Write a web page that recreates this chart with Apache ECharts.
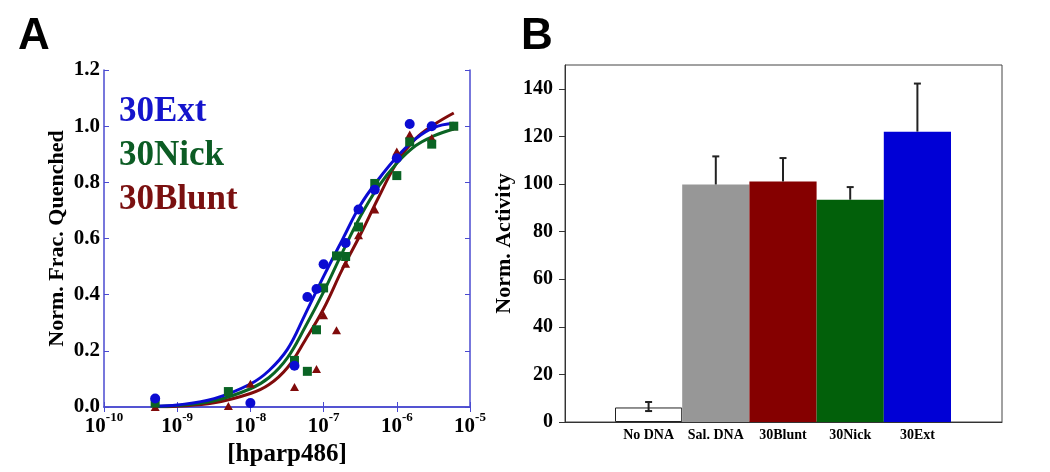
<!DOCTYPE html>
<html>
<head>
<meta charset="utf-8">
<script src="https://cdn.jsdelivr.net/npm/echarts@6/dist/echarts.min.js"></script>
<style>
html,body{margin:0;padding:0;background:#fff;}
#chart{width:1050px;height:472px;}
</style>
</head>
<body>
<div id="chart"></div>
<script>
// ---------- Panel A: binding curves ----------
const seriesNames = ['30Ext', '30Nick', '30Blunt'];

const blueX = [5e-10, 1e-8, 4e-8, 6e-8, 8e-8, 1e-7, 2e-7, 3e-7, 5e-7, 1e-6, 1.5e-6, 3e-6];
const blueY = [0.03, 0.014, 0.147, 0.392, 0.42, 0.508, 0.584, 0.703, 0.774, 0.886, 1.008, 1.0];

const greenX = [5e-10, 5e-9, 4e-8, 6e-8, 8e-8, 1e-7, 1.5e-7, 2e-7, 3e-7, 5e-7, 1e-6, 1.5e-6, 3e-6, 6e-6];
const greenY = [0.014, 0.055, 0.166, 0.127, 0.275, 0.424, 0.538, 0.536, 0.641, 0.796, 0.824, 0.944, 0.936, 1.0];

const redX = [5e-10, 5e-9, 1e-8, 4e-8, 8e-8, 1e-7, 1.5e-7, 2e-7, 3e-7, 5e-7, 1e-6, 1.5e-6, 3e-6, 6e-6];
const redY = [0.0, 0.004, 0.083, 0.071, 0.135, 0.327, 0.273, 0.51, 0.612, 0.703, 0.91, 0.97, 0.958, 1.0];

// fitted curves
const fitX = [5e-10, 1e-9, 3.2e-9, 1e-8, 1.8e-8, 3.2e-8, 5.6e-8, 1e-7, 1.8e-7, 3.2e-7, 5.6e-7, 1e-6, 1.8e-6, 3.2e-6, 6e-6];
const blueFit  = [0.003, 0.007, 0.03, 0.082, 0.13, 0.205, 0.33, 0.465, 0.595, 0.72, 0.81, 0.89, 0.955, 0.995, 1.01];
const greenFit = [0.002, 0.005, 0.022, 0.065, 0.105, 0.175, 0.285, 0.41, 0.55, 0.68, 0.785, 0.868, 0.93, 0.965, 0.99];
const redFit   = [0.001, 0.003, 0.015, 0.048, 0.08, 0.14, 0.238, 0.35, 0.49, 0.615, 0.745, 0.87, 0.955, 1.005, 1.047];

const yTicksA = [0, 0.2, 0.4, 0.6, 0.8, 1.0, 1.2];

// ---------- Panel B: activity ----------
const categories = ['No DNA', 'Sal. DNA', '30Blunt', '30Nick', '30Ext'];
const activity   = [6.1, 99.8, 101.1, 93.4, 122.0];
const errPlus    = [2.3, 11.8, 9.8, 5.3, 20.2];
const errMinus   = [1.5, 0, 0, 0, 0];

const colBlue = '#0b0bd2', colGreen = '#0a6424', colRed = '#800b0b';
const barColors = ['#ffffff', '#979797', '#850000', '#02600a', '#0000d6'];
const serif = '"Liberation Serif", "Times New Roman", serif';
const frameBlue = '#4a4ad0';

const pairs = (xs, ys) => xs.map((x, i) => [x, ys[i]]);

const chart = echarts.init(document.getElementById('chart'), null, {renderer: 'canvas'});

const option = {
  backgroundColor: '#fff',
  animation: false,
  title: [
    {text: 'A', left: 13, top: 10, textStyle: {fontFamily: '"Liberation Sans", Arial, sans-serif', fontWeight: 'bold', fontSize: 44, color: '#000'}},
    {text: 'B', left: 516, top: 10, textStyle: {fontFamily: '"Liberation Sans", Arial, sans-serif', fontWeight: 'bold', fontSize: 44, color: '#000'}}
  ],
  legend: {
    orient: 'vertical',
    left: 108, top: 86,
    itemWidth: 0, itemHeight: 0, itemGap: 2,
    selectedMode: false,
    textStyle: {fontFamily: serif, fontWeight: 'bold', fontSize: 35, lineHeight: 42},
    data: [
      {name: seriesNames[0], textStyle: {color: '#1414cc'}},
      {name: seriesNames[1], textStyle: {color: '#0c5c24'}},
      {name: seriesNames[2], textStyle: {color: '#7a1010'}}
    ]
  },
  grid: [
    {left: 104, right: 580, top: 70, bottom: 65},
    {left: 565, right: 48, top: 65, bottom: 50, show: true, borderColor: '#444', borderWidth: 1, backgroundColor: 'transparent'},
    {left: 615, right: 99, top: 65, bottom: 50}
  ],
  xAxis: [
    { // A bottom
      type: 'log', gridIndex: 0, position: 'bottom', logBase: 10,
      min: 1e-10, max: 1e-5,
      name: '[hparp486]', nameLocation: 'middle', nameGap: 32,
      nameTextStyle: {fontFamily: serif, fontWeight: 'bold', fontSize: 25, color: '#000'},
      axisLine: {lineStyle: {color: frameBlue, width: 1.5}},
      axisTick: {inside: true, length: 5, lineStyle: {color: frameBlue}},
      minorTick: {show: false},
      splitLine: {show: false},
      axisLabel: {
        margin: 4,
        formatter: v => '{b|10}{s|' + Math.round(Math.log10(v)) + '}',
        rich: {
          b: {fontFamily: serif, fontWeight: 'bold', fontSize: 21, color: '#000', verticalAlign: 'bottom', lineHeight: 26},
          s: {fontFamily: serif, fontWeight: 'bold', fontSize: 13, color: '#000', verticalAlign: 'top', lineHeight: 14}
        }
      }
    },
    { // A top frame
      type: 'log', gridIndex: 0, position: 'top', logBase: 10,
      min: 1e-10, max: 1e-5,
      axisLine: {lineStyle: {color: frameBlue, width: 1.5}},
      axisTick: {inside: true, length: 5, lineStyle: {color: frameBlue}},
      axisLabel: {show: false}, splitLine: {show: false}
    },
    { // B frame bottom line
      type: 'value', gridIndex: 1, min: 0, max: 1,
      axisLine: {lineStyle: {color: '#333', width: 1}},
      axisTick: {show: false}, axisLabel: {show: false}, splitLine: {show: false}
    },
    { // B categories
      type: 'category', gridIndex: 2, data: categories,
      axisLine: {show: false}, axisTick: {show: false},
      axisLabel: {margin: 6, interval: 0, fontFamily: serif, fontWeight: 'bold', fontSize: 14, color: '#000'}
    }
  ],
  yAxis: [
    { // A left
      type: 'value', gridIndex: 0, min: yTicksA[0], max: yTicksA[yTicksA.length - 1], interval: 0.2,
      name: 'Norm. Frac. Quenched', nameLocation: 'middle', nameGap: 36,
      nameTextStyle: {fontFamily: serif, fontWeight: 'bold', fontSize: 22, color: '#000'},
      axisLine: {show: true, lineStyle: {color: frameBlue, width: 1.5}},
      axisTick: {show: true, inside: true, length: 5, lineStyle: {color: frameBlue}},
      splitLine: {show: false},
      axisLabel: {margin: 4, formatter: v => v.toFixed(1), fontFamily: serif, fontWeight: 'bold', fontSize: 21, color: '#000'}
    },
    { // A right frame
      type: 'value', gridIndex: 0, position: 'right', min: 0, max: 1.2, interval: 0.2,
      axisLine: {show: true, lineStyle: {color: frameBlue, width: 1.5}},
      axisTick: {show: true, inside: true, length: 5, lineStyle: {color: frameBlue}},
      axisLabel: {show: false}, splitLine: {show: false}
    },
    { // B left
      type: 'value', gridIndex: 1, min: 0, max: 150, interval: 20,
      name: 'Norm. Activity', nameLocation: 'middle', nameGap: 50,
      nameTextStyle: {fontFamily: serif, fontWeight: 'bold', fontSize: 22, color: '#000'},
      axisLine: {show: true, lineStyle: {color: '#333', width: 1}},
      axisTick: {show: true, inside: false, length: 6, lineStyle: {color: '#333'}},
      splitLine: {show: false},
      axisLabel: {margin: 12, showMaxLabel: false, fontFamily: serif, fontWeight: 'bold', fontSize: 20, color: '#000'}
    },
    { // B bars (hidden, same scale)
      type: 'value', gridIndex: 2, min: 0, max: 150, show: false
    }
  ],
  series: [
    {name: seriesNames[2], type: 'line', xAxisIndex: 0, yAxisIndex: 0, data: pairs(fitX, redFit), smooth: 0.4, showSymbol: false, symbol: 'none', lineStyle: {color: colRed, width: 3}, itemStyle: {color: colRed}, z: 2},
    {name: seriesNames[1], type: 'line', xAxisIndex: 0, yAxisIndex: 0, data: pairs(fitX, greenFit), smooth: 0.4, showSymbol: false, symbol: 'none', lineStyle: {color: colGreen, width: 3}, itemStyle: {color: colGreen}, z: 3},
    {name: seriesNames[0], type: 'line', xAxisIndex: 0, yAxisIndex: 0, data: pairs(fitX, blueFit), smooth: 0.4, showSymbol: false, symbol: 'none', lineStyle: {color: colBlue, width: 3}, itemStyle: {color: colBlue}, z: 4},
    {name: seriesNames[2], type: 'scatter', xAxisIndex: 0, yAxisIndex: 0, data: pairs(redX, redY), symbol: 'triangle', symbolSize: [9, 8], itemStyle: {color: colRed, opacity: 1}, z: 5},
    {name: seriesNames[1], type: 'scatter', xAxisIndex: 0, yAxisIndex: 0, data: pairs(greenX, greenY), symbol: 'rect', symbolSize: 9, itemStyle: {color: colGreen, opacity: 1}, z: 6},
    {name: seriesNames[0], type: 'scatter', xAxisIndex: 0, yAxisIndex: 0, data: pairs(blueX, blueY), symbol: 'circle', symbolSize: 10, itemStyle: {color: colBlue, opacity: 1}, z: 7},
    {
      name: 'activity', type: 'bar', xAxisIndex: 3, yAxisIndex: 3,
      barWidth: '100%', barCategoryGap: 0,
      data: activity.map((v, i) => ({
        value: v,
        itemStyle: i === 0 ? {color: barColors[i], borderColor: '#222', borderWidth: 1} : {color: barColors[i]}
      }))
    },
    {
      name: 'error', type: 'custom', xAxisIndex: 3, yAxisIndex: 3, z: 10,
      data: activity.map((v, i) => [i, v, v - errMinus[i], v + errPlus[i]]),
      encode: {x: 0, y: [2, 3]},
      renderItem: function (params, api) {
        const i = api.value(0), v = api.value(1), lo = api.value(2), hi = api.value(3);
        const top = api.coord([i, hi]);
        const bot = api.coord([i, lo]);
        const half = 3.5;
        const st = {stroke: '#222', lineWidth: 2};
        const children = [
          {type: 'line', shape: {x1: top[0], y1: top[1], x2: bot[0], y2: bot[1]}, style: st},
          {type: 'line', shape: {x1: top[0] - half, y1: top[1], x2: top[0] + half, y2: top[1]}, style: st}
        ];
        if (lo < v) children.push({type: 'line', shape: {x1: bot[0] - half, y1: bot[1], x2: bot[0] + half, y2: bot[1]}, style: st});
        return {type: 'group', children: children};
      }
    }
  ]
};
chart.setOption(option);
</script>
</body>
</html>
